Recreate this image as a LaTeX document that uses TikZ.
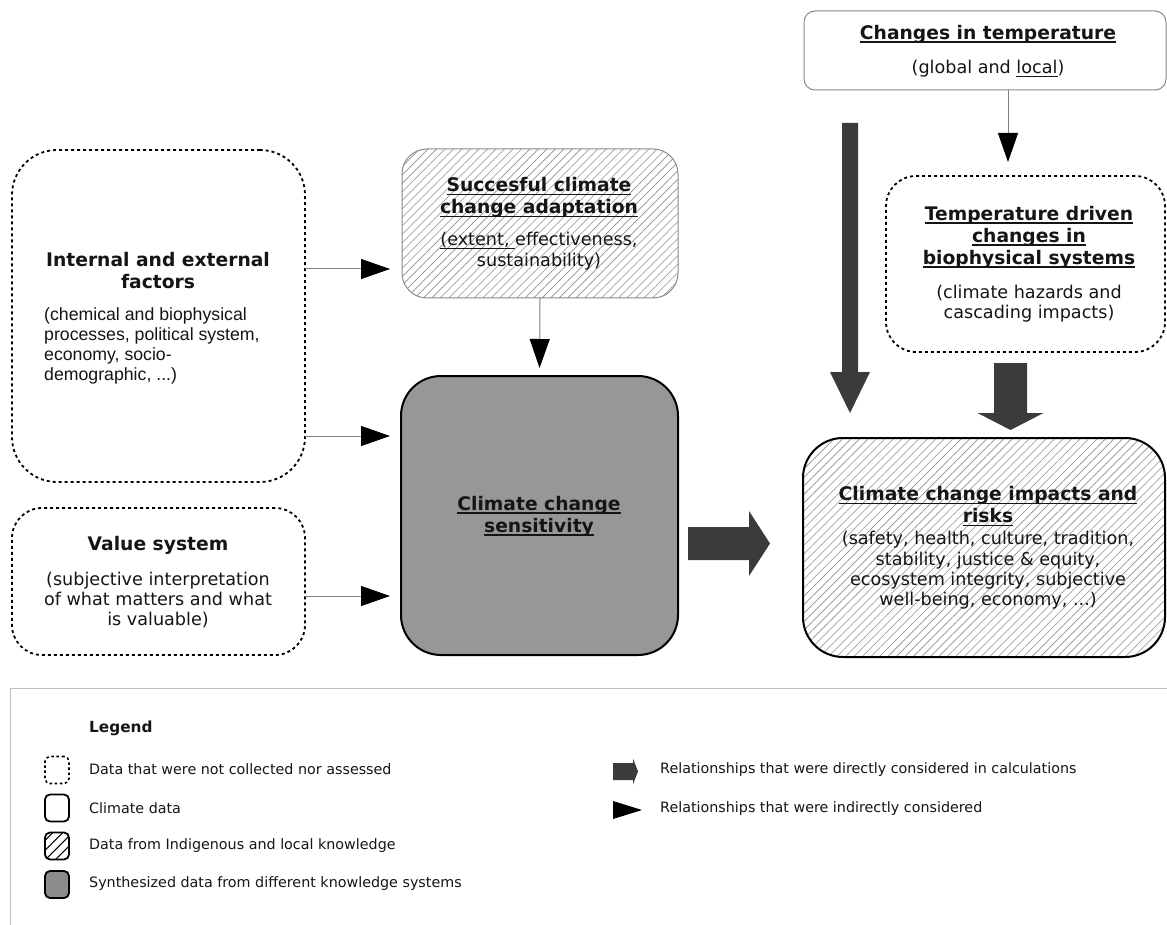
\documentclass[tikz,border=0pt]{standalone}
\usepackage{fontspec}
\setmainfont{DejaVu Sans}
\newfontfamily\arialf{Liberation Sans}
\usetikzlibrary{patterns.meta,calc,arrows.meta}
\definecolor{darkarr}{HTML}{3B3B3B}
\definecolor{sensgray}{HTML}{979797}
\definecolor{leggray}{HTML}{8C8C8C}
\definecolor{framegray}{HTML}{8A8A8A}
\definecolor{hatchgray}{HTML}{8E8E8E}
\definecolor{legline}{HTML}{BEBEBE}
\definecolor{txt}{HTML}{151515}
\newcommand\myul[1]{{\setbox0\hbox{#1}\rlap{\rule[-3.6pt]{\wd0}{1.3pt}}\box0}}
\begin{document}
\begin{tikzpicture}[x=1pt,y=-1pt,
 box/.style={rectangle, inner sep=0pt, outer sep=0pt},
 dotbox/.style={box, draw=black, line width=1.8pt, dash pattern=on 3pt off 3pt},
 thinbox/.style={box, draw=framegray, line width=1pt},
 thickbox/.style={box, draw=black, line width=2pt},
 hatch/.style={pattern={Lines[angle=45,distance=6pt,line width=0.6pt]}, pattern color=hatchgray},
 ttl/.style={font=\fontsize{18.7}{22}\selectfont\bfseries, align=center, inner sep=0pt, text=txt},
 bdy/.style={font=\fontsize{17.6}{20.3}\selectfont, align=center, inner sep=0pt, text=txt},
 lgd/.style={font=\fontsize{14.3}{17}\selectfont, anchor=west, inner sep=0pt, text=txt},
 thinarr/.style={draw=gray, line width=1pt, -{Triangle[length=29pt,width=20pt,color=black]}},
 fatarrow/.style={fill=darkarr, draw=none},
]
\useasboundingbox[fill=white] (0,0) rectangle (1167,925);

% ---------- boxes ----------
\node[thinbox, minimum width=362, minimum height=79, rounded corners=11pt] (temp) at (985,50.5) {};
\node[dotbox, minimum width=279, minimum height=176, rounded corners=30pt] (tdc) at (1025.5,264) {};
\node[thickbox, hatch, minimum width=362, minimum height=219, rounded corners=40pt] (imp) at (984,547.5) {};
\node[thinbox, hatch, minimum width=276, minimum height=149, rounded corners=25pt] (adapt) at (540,223.5) {};
\node[thickbox, fill=sensgray, minimum width=277, minimum height=279, rounded corners=40pt] (sens) at (539.5,515.5) {};
\node[dotbox, minimum width=293, minimum height=332, rounded corners=45pt] (ief) at (158.5,316) {};
\node[dotbox, minimum width=293, minimum height=147, rounded corners=30pt] (val) at (158.5,581.5) {};

% ---------- texts ----------
\node[ttl] (tempT) at (988,34) {\myul{Changes in temperature}};
\node[bdy] (tempB) at (988,69) {(global and \myul{local})};
\node[ttl] (tdcT) at (1029,237) {\myul{Temperature driven}\\\myul{changes in}\\\myul{biophysical systems}};
\node[bdy] (tdcB) at (1029,303.5) {(climate hazards and\\cascading impacts)};
\node[ttl] (impT) at (988,506.5) {\myul{Climate change impacts and}\\\myul{risks}};
\node[bdy] (impB) at (988,570.5) {(safety, health, culture, tradition,\\stability, justice \& equity,\\ecosystem integrity, subjective\\well-being, economy, ...)};
\node[ttl] (adT) at (539,197.5) {\myul{Succesful climate}\\\myul{change adaptation}};
\node[bdy] (adB) at (539,251) {\myul{(extent, }effectiveness,\\sustainability)};
\node[ttl] (senT) at (539,516) {\myul{Climate change}\\\myul{sensitivity}};
\node[ttl] (iefT) at (158,270.5) {Internal and external\\factors};
\node[anchor=west, align=left, inner sep=0pt, text=txt, font=\arialf\fontsize{17.7}{20}\selectfont] (iefB) at (44,346) {(chemical and biophysical\\processes, political system,\\economy, socio-\\demographic, ...)};
\node[ttl] (valT) at (158,545) {Value system};
\node[bdy] (valB) at (158,600) {(subjective interpretation\\of what matters and what\\is valuable)};

% ---------- thin connectors ----------
\coordinate (ya) at (0,269);
\coordinate (yb) at (0,436);
\coordinate (yc) at (0,596);
\coordinate (xt) at (1008,0);
\draw[thinarr, shorten >=12pt] (ief.east |- ya) -- (adapt.west |- ya);
\draw[thinarr, shorten >=11pt] (ief.east |- yb) -- (sens.west |- yb);
\draw[thinarr, shorten >=11pt] (val.east |- yc) -- (sens.west |- yc);
\draw[thinarr, shorten >=8pt] (adapt.south) -- (sens.north);
\draw[thinarr, shorten >=14pt] (temp.south -| xt) -- (tdc.north -| xt);

% ---------- fat connectors ----------
\coordinate (xa) at (850,0);
\coordinate (xb) at (1010.5,0);
\coordinate (yh) at (0,543.5);
% temp -> impacts
\coordinate (s1) at ($(temp.south -| xa)+(0,33)$);
\coordinate (e1) at ($(imp.north -| xa)+(0,-25)$);
\fill[fatarrow] ($(s1)+(-8,0)$) -- ($(e1)+(-8,-41)$) -- ($(e1)+(-20,-41)$) -- (e1) -- ($(e1)+(20,-41)$) -- ($(e1)+(8,-41)$) -- ($(s1)+(8,0)$) -- cycle;
% tdc -> impacts
\coordinate (s2) at ($(tdc.south -| xb)+(0,11)$);
\coordinate (e2) at ($(imp.north -| xb)+(0,-8)$);
\fill[fatarrow] ($(s2)+(-16.5,0)$) -- ($(e2)+(-16.5,-17)$) -- ($(e2)+(-33,-17)$) -- (e2) -- ($(e2)+(33,-17)$) -- ($(e2)+(16.5,-17)$) -- ($(s2)+(16.5,0)$) -- cycle;
% sens -> impacts
\coordinate (s3) at ($(sens.east |- yh)+(10,0)$);
\coordinate (e3) at ($(imp.west |- yh)+(-33,0)$);
\fill[fatarrow] ($(s3)+(0,-16.5)$) -- ($(e3)+(-21,-16.5)$) -- ($(e3)+(-21,-32.5)$) -- (e3) -- ($(e3)+(-21,32.5)$) -- ($(e3)+(-21,16.5)$) -- ($(s3)+(0,16.5)$) -- cycle;

% ---------- legend ----------
\draw[legline, line width=1pt] (10,925) -- (10,688) -- (1167,688);
\node[lgd, font=\fontsize{15.3}{18}\selectfont\bfseries] (legT) at (89,728) {Legend};
\node[box, draw=black, line width=1.6pt, dash pattern=on 2.5pt off 2.6pt, minimum width=24, minimum height=27, rounded corners=5pt] (l1) at (57,770) {};
\node[box, draw=black, line width=1.8pt, minimum width=24, minimum height=27, rounded corners=5pt] (l2) at (57,808) {};
\node[box, draw=black, line width=1.8pt, pattern={Lines[angle=45,distance=7pt,line width=1pt]}, pattern color=black, minimum width=24, minimum height=27, rounded corners=5pt] (l3) at (57,846) {};
\node[box, draw=black, line width=1.8pt, fill=leggray, minimum width=24, minimum height=27, rounded corners=5pt] (l4) at (57,884.5) {};
\node[lgd] (lt1) at (89,769) {Data that were not collected nor assessed};
\node[lgd] (lt2) at (89,808) {Climate data};
\node[lgd] (lt3) at (89,846) {Data from Indigenous and local knowledge};
\node[lgd] (lt4) at (89,884) {Synthesized data from different knowledge systems};
\coordinate (ls) at (613,771.5);
\coordinate (le) at (638,771.5);
\fill[fatarrow] ($(ls)+(0,-8.5)$) -- ($(le)+(-5,-8.5)$) -- ($(le)+(-5,-13)$) -- (le) -- ($(le)+(-5,13)$) -- ($(le)+(-5,8.5)$) -- ($(ls)+(0,8.5)$) -- cycle;
\coordinate (ts) at (613,810);
\coordinate (te) at (642,810);
\fill[black] ($(ts)+(0,-9)$) -- (te) -- ($(ts)+(0,9)$) -- cycle;
\node[lgd] (lt5) at (660,770) {Relationships that were directly considered in calculations};
\node[lgd] (lt6) at (660,809) {Relationships that were indirectly considered};
\end{tikzpicture}
\end{document}
